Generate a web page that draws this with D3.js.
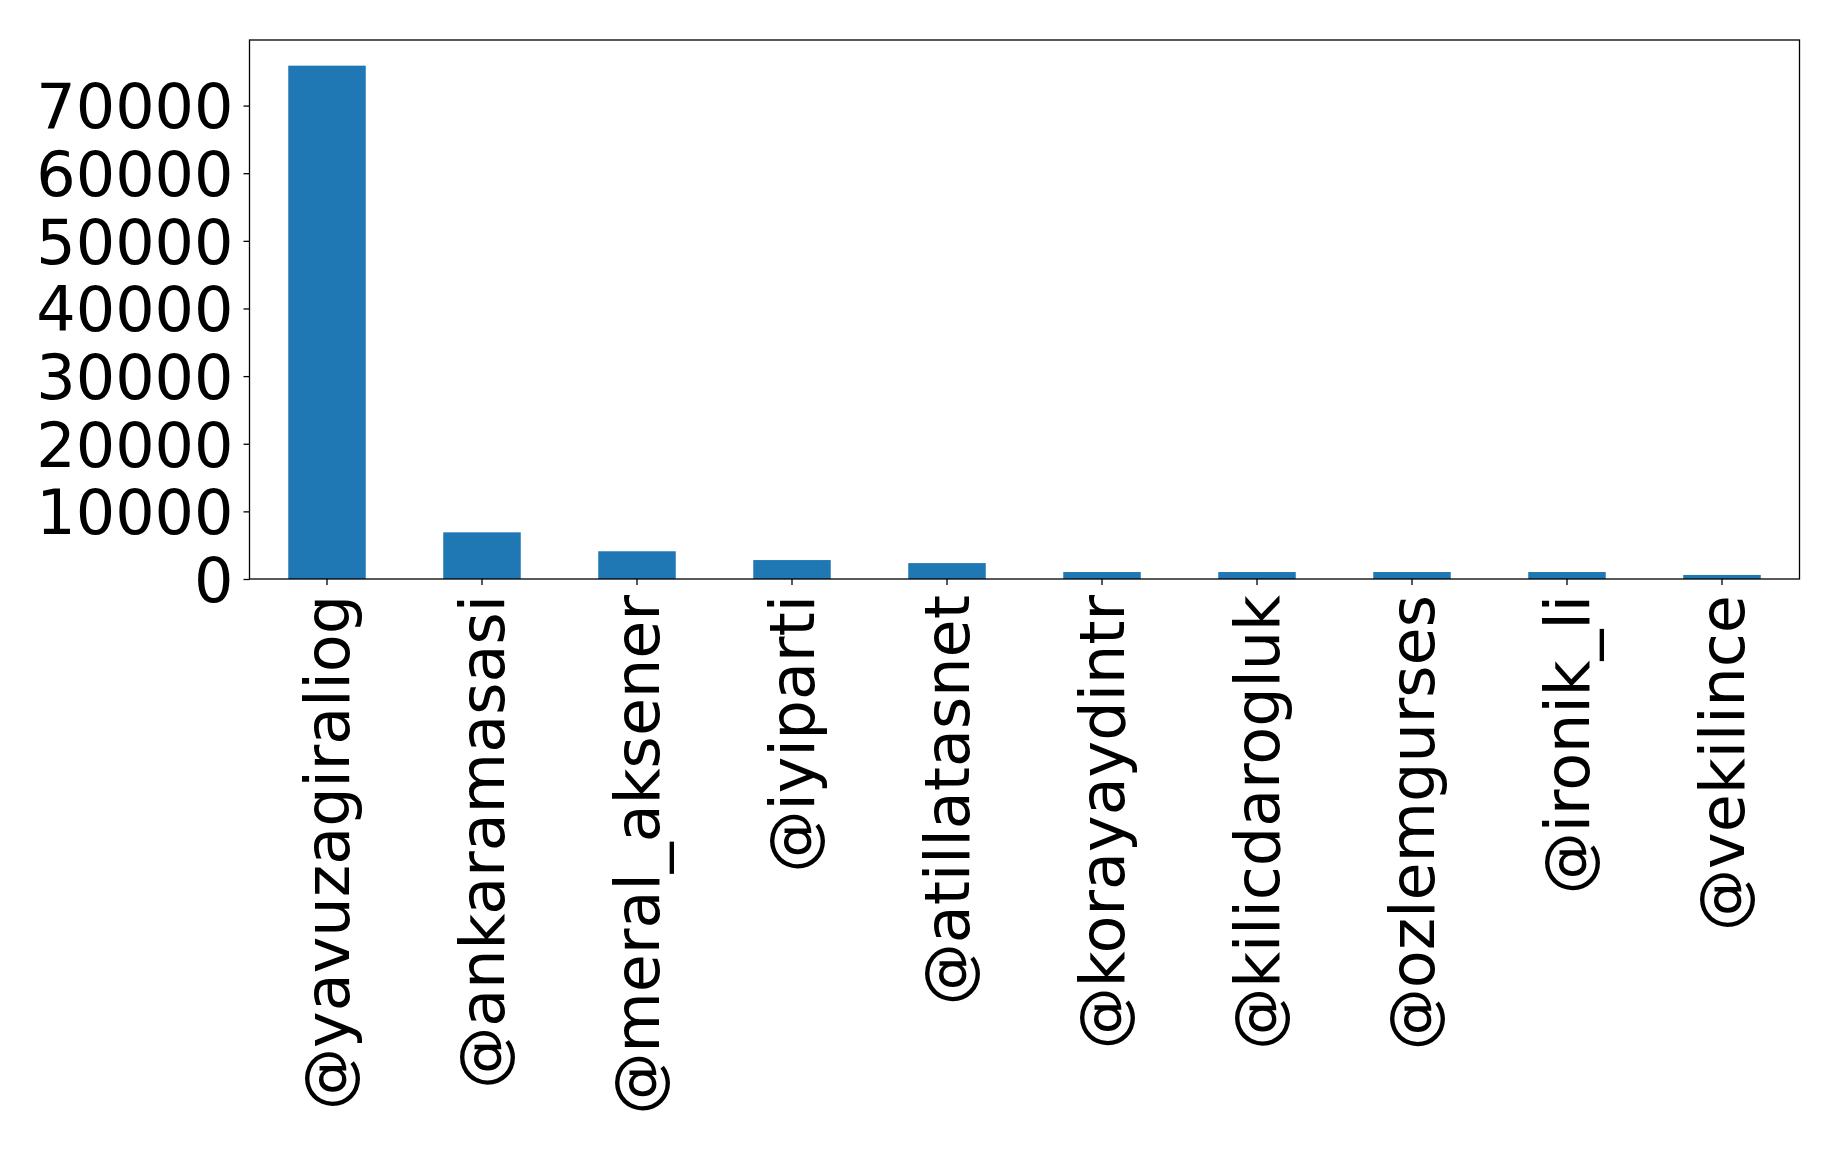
<!DOCTYPE html>
<html>
<head>
<meta charset="utf-8">
<script src="https://cdn.jsdelivr.net/npm/d3@7"></script>
<style>
html, body { margin: 0; padding: 0; background: #fff; }
svg { display: block; }
text { font-family: "DejaVu Sans", sans-serif; fill: #000; }
</style>
</head>
<body>
<svg id="chart" width="1838" height="1152"></svg>
<script>
const categories = ["@yavuzagiraliog", "@ankaramasasi", "@meral_aksener", "@iyiparti", "@atillatasnet",
  "@korayaydintr", "@kilicdarogluk", "@ozlemgurses", "@ironik_li", "@vekilince"];
const values = [75900, 6900, 4100, 2800, 2350, 1030, 1030, 1030, 1030, 600];
const yTicks = [0, 10000, 20000, 30000, 40000, 50000, 60000, 70000];

const svg = d3.select("#chart");
const mLeft = 249.5, mRight = 1799.5, mTop = 40, mBottom = 579;
const fontPx = 62;

const x = d3.scaleBand().domain(categories).range([mLeft, mRight]).paddingInner(0.5).paddingOuter(0.25);
const y = d3.scaleLinear().domain([0, d3.max(values) * 1.05]).range([mBottom, mTop]);

svg.append("g").selectAll("rect").data(categories).join("rect")
  .attr("x", d => x(d))
  .attr("width", x.bandwidth())
  .attr("y", (d, i) => y(values[i]))
  .attr("height", (d, i) => y(0) - y(values[i]))
  .attr("fill", "#1f77b4");

// y axis
const yAxis = d3.axisLeft(y).tickValues(yTicks).tickFormat(d3.format("d")).tickSize(6).tickPadding(10);
const gy = svg.append("g").attr("transform", `translate(${mLeft},0)`).call(yAxis);
gy.select(".domain").remove();
gy.selectAll(".tick line").attr("stroke", "#000").attr("stroke-width", 1.3);
gy.selectAll(".tick text").attr("font-size", fontPx).attr("font-family", "DejaVu Sans").attr("fill", "#000").attr("dy", "0.36em");

// x axis
const xAxis = d3.axisBottom(x).tickSize(6).tickPadding(10);
const gx = svg.append("g").attr("transform", `translate(0,${mBottom})`).call(xAxis);
gx.select(".domain").remove();
gx.selectAll(".tick line").attr("stroke", "#000").attr("stroke-width", 1.3);
gx.selectAll(".tick text")
  .attr("font-size", fontPx).attr("font-family", "DejaVu Sans").attr("fill", "#000")
  .attr("text-anchor", "end")
  .attr("transform", "translate(0,16) rotate(-90)")
  .attr("x", 0).attr("y", 0).attr("dy", "0.36em");

// frame
svg.append("rect").attr("x", mLeft).attr("y", mTop).attr("width", mRight - mLeft).attr("height", mBottom - mTop)
  .attr("fill", "none").attr("stroke", "#000").attr("stroke-width", 1.3);
</script>
</body>
</html>
